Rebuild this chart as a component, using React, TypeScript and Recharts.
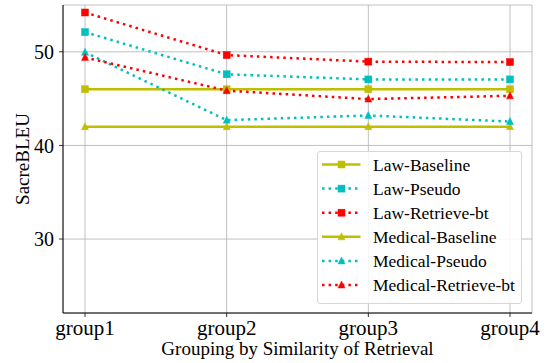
import React from 'react';
import { LineChart, Line, XAxis, YAxis, CartesianGrid } from 'recharts';

const groups = ['group1', 'group2', 'group3', 'group4'];
const lawBaseline = [46, 46, 46, 46];
const lawPseudo = [52.1, 47.6, 47.05, 47.05];
const lawRetrieveBt = [54.2, 49.65, 48.95, 48.9];
const medicalBaseline = [42, 42, 42, 42];
const medicalPseudo = [49.95, 42.7, 43.2, 42.55];
const medicalRetrieveBt = [49.4, 45.85, 44.95, 45.3];
const yTicks = [30, 40, 50];
const yDomain = [22.1, 55];

const OLIVE = '#bfbf00';
const CYAN = '#00bfbf';
const RED = '#ff0000';
const FONT = '"Liberation Serif", "Times New Roman", serif';

type Series = { key: string; name: string; values: number[]; color: string; dotted: boolean; marker: 'square' | 'triangle' };

const series: Series[] = [
  { key: 'lawBaseline', name: 'Law-Baseline', values: lawBaseline, color: OLIVE, dotted: false, marker: 'square' },
  { key: 'lawPseudo', name: 'Law-Pseudo', values: lawPseudo, color: CYAN, dotted: true, marker: 'square' },
  { key: 'lawRetrieveBt', name: 'Law-Retrieve-bt', values: lawRetrieveBt, color: RED, dotted: true, marker: 'square' },
  { key: 'medicalBaseline', name: 'Medical-Baseline', values: medicalBaseline, color: OLIVE, dotted: false, marker: 'triangle' },
  { key: 'medicalPseudo', name: 'Medical-Pseudo', values: medicalPseudo, color: CYAN, dotted: true, marker: 'triangle' },
  { key: 'medicalRetrieveBt', name: 'Medical-Retrieve-bt', values: medicalRetrieveBt, color: RED, dotted: true, marker: 'triangle' },
];

const data = groups.map((g, i) => {
  const row: Record<string, any> = { group: g };
  series.forEach((s) => { row[s.key] = s.values[i]; });
  return row;
});

const MS = 7;
const DASH = '2.5 4.1';
const LW = 2.5;

function Marker({ cx, cy, color, kind }: { cx: number; cy: number; color: string; kind: 'square' | 'triangle' }) {
  const h = MS / 2;
  if (kind === 'square') {
    return <rect x={cx - h} y={cy - h} width={MS} height={MS} fill={color} stroke={color} strokeWidth={0.5} />;
  }
  return (
    <polygon
      points={`${cx},${cy - h - 0.5} ${cx - h},${cy + h - 0.5} ${cx + h},${cy + h - 0.5}`}
      fill={color}
      stroke={color}
      strokeWidth={0.5}
    />
  );
}

function LegendBox() {
  const rowH = 24.1;
  return (
    <div
      style={{
        position: 'absolute',
        left: 316.5,
        top: 150.5,
        width: 205,
        height: 153,
        boxSizing: 'border-box',
        border: '1px solid #d6d6d6',
        borderRadius: 3,
        background: 'rgba(255,255,255,0.85)',
      }}
    >
      <svg width={205} height={153} style={{ position: 'absolute', left: -1, top: -1 }}>
        {series.map((s, i) => {
          const cy = 13.5 + i * rowH;
          return (
            <g key={s.key}>
              <line
                x1={5}
                x2={43.5}
                y1={cy}
                y2={cy}
                stroke={s.color}
                strokeWidth={LW}
                strokeDasharray={s.dotted ? DASH : undefined}
              />
              <Marker cx={24.5} cy={cy} color={s.color} kind={s.marker} />
              <text
                x={56}
                y={cy}
                dy="0.35em"
                fontFamily={FONT}
                fontSize={17.5}
                fill="#000"
              >
                {s.name}
              </text>
            </g>
          );
        })}
      </svg>
    </div>
  );
}

export default function App() {
  return (
    <div style={{ position: 'absolute', left: 0, top: 0, width: 548, height: 363, background: '#fff' }}>
      <LineChart width={548} height={363} data={data} margin={{ top: 5, right: 16, left: 0, bottom: 0 }}>
        <CartesianGrid stroke="#b0b0b0" strokeWidth={0.8} fill="none" />
        <XAxis
          dataKey="group"
          type="category"
          interval={0}
          padding={{ left: 22, right: 22 }}
          height={50}
          axisLine={{ stroke: '#000', strokeWidth: 1 }}
          tickLine={{ stroke: '#000', strokeWidth: 0.8 }}
          tickSize={4}
          tickMargin={3.5}
          tick={{ fill: '#000', fontSize: 21, fontFamily: FONT }}
          label={{
            content: (props: any) => {
              const vb = props.viewBox || { x: 63, y: 313, width: 469, height: 50 };
              return (
                <text x={vb.x + vb.width / 2} y={vb.y + 42} textAnchor="middle" fontFamily={FONT} fontSize={19} fill="#000">
                  Grouping by Similarity of Retrieval
                </text>
              );
            },
          }}
        />
        <XAxis
          xAxisId="top"
          dataKey="group"
          orientation="top"
          height={0}
          tick={false}
          tickLine={false}
          padding={{ left: 22, right: 22 }}
          axisLine={{ stroke: '#000', strokeWidth: 1 }}
        />
        <YAxis
          type="number"
          domain={yDomain}
          ticks={yTicks}
          allowDataOverflow
          width={63}
          axisLine={{ stroke: '#000', strokeWidth: 1 }}
          tickLine={{ stroke: '#000', strokeWidth: 0.8 }}
          tickSize={4}
          tickMargin={5}
          tick={{ fill: '#000', fontSize: 20, fontFamily: FONT }}
          label={{
            content: (props: any) => {
              const vb = props.viewBox || { x: 0, y: 5, width: 63, height: 308 };
              const cx = 22.5;
              const cy = vb.y + vb.height / 2;
              return (
                <text
                  x={cx}
                  y={cy}
                  transform={`rotate(-90, ${cx}, ${cy})`}
                  textAnchor="middle"
                  dominantBaseline="central"
                  fontFamily={FONT}
                  fontSize={19}
                  fill="#000"
                >
                  SacreBLEU
                </text>
              );
            },
          }}
        />
        <YAxis
          yAxisId="right"
          orientation="right"
          type="number"
          domain={yDomain}
          width={0}
          tick={false}
          tickLine={false}
          axisLine={{ stroke: '#000', strokeWidth: 1 }}
        />
        {series.map((s) => (
          <Line
            key={s.key}
            dataKey={s.key}
            name={s.name}
            type="linear"
            stroke={s.color}
            strokeWidth={LW}
            strokeDasharray={s.dotted ? DASH : undefined}
            isAnimationActive={false}
            dot={(p: any) => <Marker key={`${s.key}-${p.index}`} cx={p.cx} cy={p.cy} color={s.color} kind={s.marker} />}
            activeDot={false}
          />
        ))}
      </LineChart>
      <LegendBox />
    </div>
  );
}
